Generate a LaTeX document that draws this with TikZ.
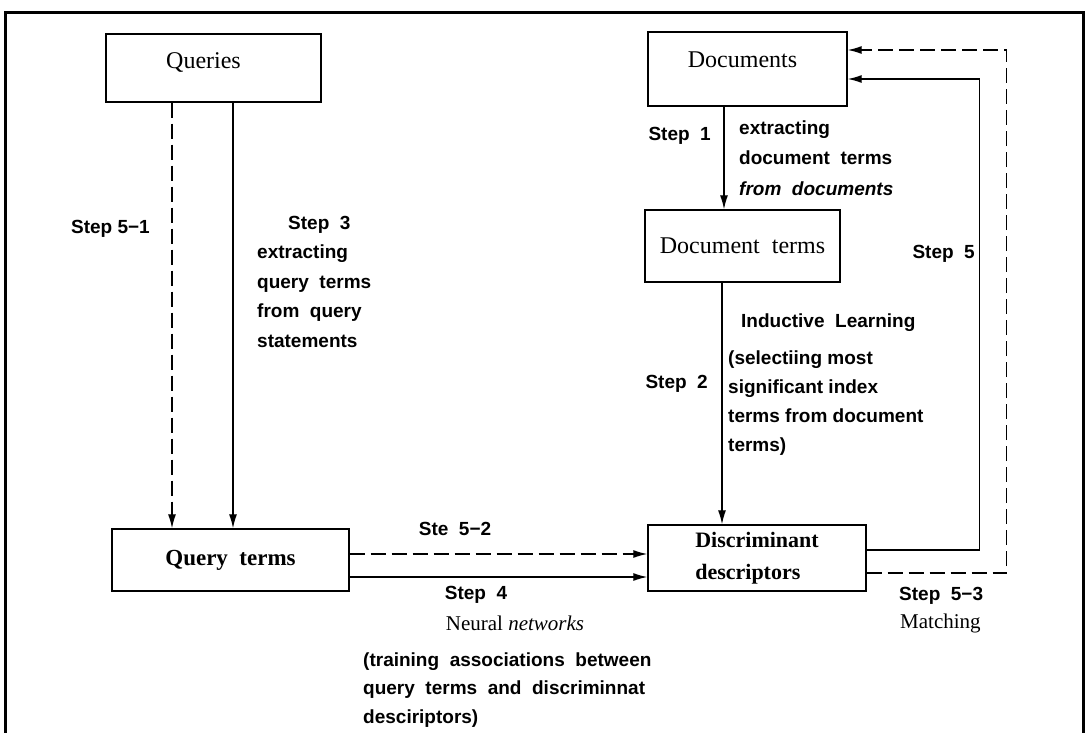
\documentclass[tikz,border=0pt]{standalone}
\usepackage{fontspec}
\setmainfont{Liberation Serif}
\newfontfamily\lblfont{Liberation Sans}
\usetikzlibrary{arrows.meta}
\begin{document}
\begin{tikzpicture}[x=1pt,y=-1pt,
  box/.style={draw, line width=1.4pt, inner sep=0pt, font=\fontsize{24}{28}\selectfont},
  lbl/.style={inner sep=0pt, font=\lblfont\bfseries\fontsize{19}{29.5}\selectfont, text height=0.72em, text depth=0.2em},
  lblblock/.style={inner sep=0pt, align=left, font=\lblfont\bfseries\fontsize{19}{29.5}\selectfont},
  ser/.style={inner sep=0pt, font=\fontsize{21}{24}\selectfont, text height=0.72em, text depth=0.2em},
  conn/.style={line width=1.3pt, -{Latex[length=14pt,width=8pt]}},
  dconn/.style={conn, dash pattern=on 15pt off 6pt},
]
\useasboundingbox (0,0) rectangle (1089,733);
\draw[line width=3pt] (5,733) -- (5,13) -- (1083,13) -- (1083,733);

% boxes
\node[box, minimum width=215pt, minimum height=68pt,
      label={[font=\fontsize{24}{28}\selectfont, xshift=-10pt, yshift=5pt]center:Queries}] (queries) at (213.5,68) {};
\node[box, minimum width=199pt, minimum height=74pt,
      label={[font=\fontsize{24}{28}\selectfont, xshift=-5pt, yshift=9pt]center:Documents}] (docs) at (747.5,69) {};
\node[box, minimum width=195pt, minimum height=72pt] (docterms) at (742.5,246) {Document\ \ terms};
\node[box, minimum width=237pt, minimum height=62pt, font=\bfseries\fontsize{23}{27}\selectfont] (qterms) at (230.5,560) {Query\ \ terms};
\node[box, minimum width=218pt, minimum height=66pt, align=left, font=\bfseries\fontsize{22}{32}\selectfont] (disc) at (757,558) {Discriminant\\descriptors};

% connectors
\draw[dconn] ([xshift=-41.5pt]queries.south) -- ([xshift=-41.5pt]queries.south |- qterms.north);
\draw[conn] ([xshift=19.5pt]queries.south) -- ([xshift=19.5pt]queries.south |- qterms.north);
\draw[conn] ([xshift=-23.5pt]docs.south) -- ([xshift=-23.5pt]docs.south |- docterms.north);
\draw[conn] ([xshift=-20.5pt]docterms.south) -- ([xshift=-20.5pt]docterms.south |- disc.north);
\draw[dconn] ([yshift=6pt]qterms.east) -- ([yshift=6pt]qterms.east -| disc.west);
\draw[conn] ([yshift=-17pt]qterms.east) -- ([yshift=-17pt]qterms.east -| disc.west);
\draw[conn] ([yshift=8pt]disc.east) -- ++(113,0) |- ([yshift=-10pt]docs.east);
\draw[dconn] ([yshift=-15pt]disc.east) -- ++(140,0) |- ([yshift=19pt]docs.east);

% labels
\node[lbl, anchor=east] (s51) at (150,231) {Step 5−1};
\node[lblblock, anchor=base west] (s3) at (257,347) {\hspace*{31pt}Step\ \ 3\\extracting\\query\ \ terms\\from\ \ query\\statements};
\node[lbl, anchor=east] (s1) at (711,138) {Step\ \ 1};
\node[lblblock, anchor=base west, font=\lblfont\bfseries\fontsize{19}{30.5}\selectfont] (s1t) at (739,195) {extracting\\document\ \ terms\\\itshape from\ \ documents};
\node[lbl, anchor=east] (s5) at (975,256) {Step\ \ 5};
\node[lbl, anchor=west] (ind) at (741,325) {Inductive\ \ Learning};
\node[lblblock, anchor=base west, font=\lblfont\bfseries\fontsize{19}{29}\selectfont] (s2t) at (728,451) {(selectiing most\\significant index\\terms from document\\terms)};
\node[lbl, anchor=east] (s2) at (708,386) {Step\ \ 2};
\node[lbl] (s52) at (455,533) {Ste\ \ 5−2};
\node[lbl] (s4) at (476,597) {Step\ \ 4};
\node[ser] (nn) at (515,628) {Neural \textit{networks}};
\node[lblblock, anchor=base west, font=\lblfont\bfseries\fontsize{19}{28.5}\selectfont] (s4t) at (363,723) {(training\ \ associations\ \ between\\query\ \ terms\ \ and\ \ discriminnat\\desciriptors)};
\node[lbl, anchor=west] (s53) at (899,598) {Step\ \ 5−3};
\node[ser, anchor=west] (match) at (900,626) {Matching};
\end{tikzpicture}
\end{document}
